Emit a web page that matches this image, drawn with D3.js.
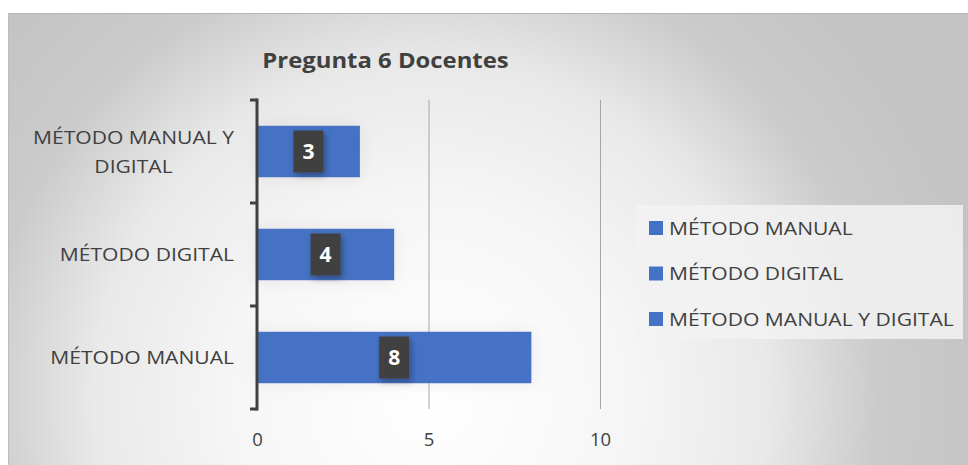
<!DOCTYPE html>
<html>
<head>
<meta charset="utf-8">
<script src="https://cdn.jsdelivr.net/npm/d3@7"></script>
<style>
  body { margin: 0; background: #fff; }
  svg text { font-family: "Open Sans", "Noto Sans", sans-serif; }
</style>
</head>
<body>
<div id="chart"></div>
<script>
// datos del gráfico
const categories = ["MÉTODO MANUAL", "MÉTODO DIGITAL", "MÉTODO MANUAL Y DIGITAL"];
const values = [8, 4, 3];
const legendLabels = ["MÉTODO MANUAL", "MÉTODO DIGITAL", "MÉTODO MANUAL Y DIGITAL"];
const xTicks = [0, 5, 10];
const title = "Pregunta 6 Docentes";

const w = 968, h = 465;
const plot = { left: 257, right: 600, top: 100, bottom: 409 };
const barColor = "#4472C4";
const textColor = "#404040";
const stretch = 1.11; // el texto original está algo ensanchado

const svg = d3.select("#chart").append("svg")
    .attr("width", w)
    .attr("height", h);

const defs = svg.append("defs");
const grad = defs.append("radialGradient")
    .attr("id", "bg")
    .attr("gradientUnits", "userSpaceOnUse")
    .attr("cx", 430).attr("cy", 400).attr("r", 560);
grad.append("stop").attr("offset", "0").attr("stop-color", "#ffffff");
grad.append("stop").attr("offset", "0.35").attr("stop-color", "#f6f6f6");
grad.append("stop").attr("offset", "0.6").attr("stop-color", "#e9e9e9");
grad.append("stop").attr("offset", "0.8").attr("stop-color", "#cbcbcb");
grad.append("stop").attr("offset", "1").attr("stop-color", "#c4c4c4");

const shadow = defs.append("filter").attr("id", "shadow")
    .attr("x", "-30%").attr("y", "-40%").attr("width", "160%").attr("height", "180%");
shadow.append("feDropShadow")
    .attr("dx", 2).attr("dy", 3).attr("stdDeviation", 3)
    .attr("flood-color", "#000").attr("flood-opacity", 0.35);

const glow = defs.append("filter").attr("id", "glow")
    .attr("x", "-20%").attr("y", "-60%").attr("width", "140%").attr("height", "220%");
glow.append("feDropShadow")
    .attr("dx", 0).attr("dy", 0).attr("stdDeviation", 8)
    .attr("flood-color", "#bfbfbf").attr("flood-opacity", 0.3);

// fondo
svg.append("rect")
    .attr("x", 8).attr("y", 13)
    .attr("width", w - 8).attr("height", h - 13)
    .attr("fill", "url(#bg)");
svg.append("line")
    .attr("x1", 8).attr("x2", w).attr("y1", 13.5).attr("y2", 13.5)
    .attr("stroke", "#b4b4b4").attr("stroke-width", 1);
svg.append("line")
    .attr("x1", 8.5).attr("x2", 8.5).attr("y1", 13).attr("y2", h)
    .attr("stroke", "#bdbdbd").attr("stroke-width", 1);

// título
svg.append("text")
    .attr("transform", `translate(385.5, 68) scale(${stretch}, 1)`)
    .attr("text-anchor", "middle")
    .attr("font-size", 21.5)
    .attr("font-weight", "bold")
    .attr("fill", textColor)
    .text(title);

const x = d3.scaleLinear().domain([0, 10]).range([plot.left, plot.right]);
const y = d3.scaleBand()
    .domain(categories)
    .range([plot.bottom, plot.top])
    .paddingInner(0.5)
    .paddingOuter(0.25);

// líneas de cuadrícula
svg.append("g")
    .selectAll("line")
    .data(xTicks.filter(d => d > 0))
    .join("line")
    .attr("x1", d => x(d) + 0.5).attr("x2", d => x(d) + 0.5)
    .attr("y1", plot.top).attr("y2", plot.bottom)
    .attr("stroke", "#a6a6a6").attr("stroke-width", 1);

// barras
svg.append("g")
    .selectAll("rect")
    .data(categories)
    .join("rect")
    .attr("x", x(0))
    .attr("y", d => y(d))
    .attr("width", (d, i) => x(values[i]) - x(0))
    .attr("height", y.bandwidth())
    .attr("fill", barColor)
    .attr("filter", "url(#glow)");

// eje x
const xAxis = svg.append("g")
    .attr("transform", `translate(0, ${plot.bottom})`)
    .call(d3.axisBottom(x).tickValues(xTicks).tickSize(0).tickPadding(24));
xAxis.select(".domain").remove();
xAxis.selectAll("text")
    .attr("font-size", 18.5)
    .attr("fill", textColor)
    .style("font-family", "'Open Sans', sans-serif");

// eje y con marcas entre categorías
const yAxisG = svg.append("g");
yAxisG.append("line")
    .attr("x1", plot.left).attr("x2", plot.left)
    .attr("y1", plot.top - 1.5).attr("y2", plot.bottom + 1.5)
    .attr("stroke", textColor).attr("stroke-width", 3);
const step = (plot.bottom - plot.top) / categories.length;
yAxisG.selectAll("line.tick")
    .data(d3.range(categories.length + 1))
    .join("line")
    .attr("class", "tick")
    .attr("x1", plot.left - 7).attr("x2", plot.left)
    .attr("y1", i => plot.top + i * step)
    .attr("y2", i => plot.top + i * step)
    .attr("stroke", textColor).attr("stroke-width", 3);

// etiquetas de categoría (con ajuste de líneas)
const wrapped = {
    "MÉTODO MANUAL Y DIGITAL": ["MÉTODO MANUAL Y", "DIGITAL"]
};
const labelRight = 234;
const lblG = svg.append("g");
categories.forEach(c => {
    const lines = wrapped[c] || [c];
    const cy = y(c) + y.bandwidth() / 2;
    const lh = 29;
    const t = lblG.append("text")
        .attr("transform", `translate(${labelRight}, 0) scale(${stretch}, 1)`)
        .attr("font-size", 19)
        .attr("fill", textColor)
        .attr("text-anchor", lines.length > 1 ? "middle" : "end");
    lines.forEach((ln, i) => {
        t.append("tspan")
            .attr("x", 0)
            .attr("y", cy + (i - (lines.length - 1) / 2) * lh)
            .attr("dy", "0.35em")
            .text(ln);
    });
    if (lines.length > 1) {
        const wmax = d3.max(t.selectAll("tspan").nodes(), n => n.getComputedTextLength());
        t.selectAll("tspan").attr("x", -wmax / 2);
    }
});

// etiquetas de datos
const dl = svg.append("g")
    .selectAll("g")
    .data(categories)
    .join("g")
    .attr("transform", (d, i) => `translate(${(x(0) + x(values[i])) / 2}, ${y(d) + y.bandwidth() / 2})`);
dl.append("rect")
    .attr("x", -15).attr("y", -21)
    .attr("width", 30).attr("height", 42)
    .attr("fill", textColor)
    .attr("filter", "url(#shadow)");
dl.append("text")
    .attr("text-anchor", "middle")
    .attr("dy", "0.36em")
    .attr("font-size", 21)
    .attr("font-weight", "bold")
    .attr("fill", "#ffffff")
    .text((d, i) => values[i]);

// leyenda
const legend = svg.append("g");
legend.append("rect")
    .attr("x", 636).attr("y", 205)
    .attr("width", 327).attr("height", 134)
    .attr("fill", "#f2f2f2").attr("fill-opacity", 0.85);
const li = legend.selectAll("g")
    .data(legendLabels)
    .join("g")
    .attr("transform", (d, i) => `translate(649, ${228 + i * 45.5})`);
li.append("rect")
    .attr("x", 0).attr("y", -7)
    .attr("width", 14).attr("height", 14)
    .attr("fill", barColor);
li.append("text")
    .attr("transform", `translate(20, 0) scale(${stretch}, 1)`)
    .attr("dy", "0.35em")
    .attr("font-size", 19)
    .attr("fill", textColor)
    .text(d => d);
</script>
</body>
</html>
